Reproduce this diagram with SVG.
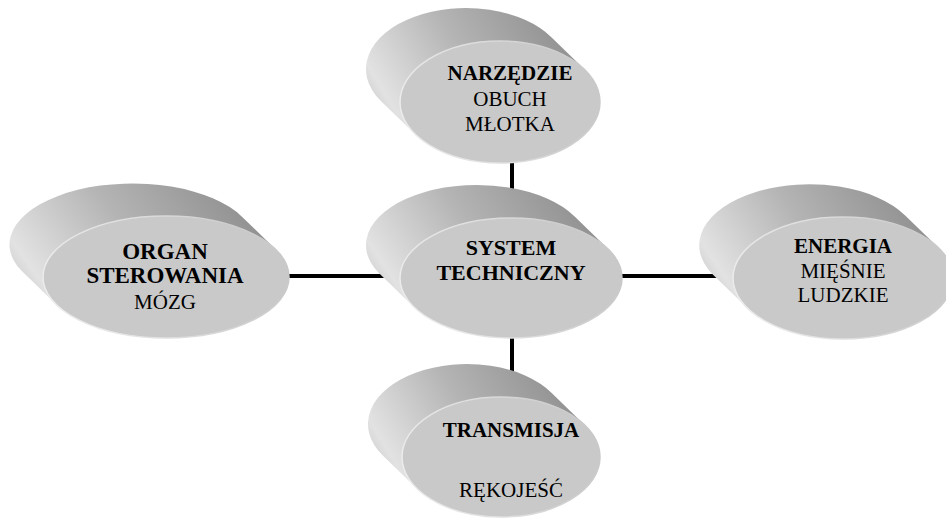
<svg xmlns="http://www.w3.org/2000/svg" width="946" height="519" viewBox="0 0 946 519">
<defs>
<linearGradient id="side" x1="0" y1="0.7" x2="1" y2="0.3">
<stop offset="0" stop-color="#c4c4c4"/>
<stop offset="0.12" stop-color="#e2e2e2"/>
<stop offset="0.5" stop-color="#b4b4b4"/>
<stop offset="1" stop-color="#8a8a8a"/>
</linearGradient>
<linearGradient id="rim" x1="0" y1="0.6" x2="1" y2="0.4">
<stop offset="0" stop-color="#ececec"/>
<stop offset="0.5" stop-color="#dcdcdc"/>
<stop offset="1" stop-color="#c8c8c8"/>
</linearGradient>
</defs>
<style>
.side{fill:url(#side);}
.front{fill:#c9c9c9;stroke:url(#rim);stroke-width:1.5;}
.conn{stroke:#000;stroke-width:4;fill:none;}
.t{font-family:'Liberation Serif','Times New Roman',serif;font-size:21px;fill:#000;text-anchor:middle;}
.b{font-weight:bold;}
</style>
<rect width="946" height="519" fill="#fff"/>
<g id="connectors">
<line class="conn" x1="512" y1="150" x2="512" y2="220"/>
<line class="conn" x1="512" y1="320" x2="512" y2="385"/>
<line class="conn" x1="270" y1="276" x2="400" y2="276"/>
<line class="conn" x1="600" y1="276" x2="735" y2="276"/>
</g>
<g id="node-narzedzie">
<path class="side" d="M585.37,70.23 L551.37,37.23 A100,61 0 0 0 380.63,100.77 L414.63,133.77 A100,61 0 0 0 585.37,70.23 Z"/>
<ellipse class="front" cx="500" cy="102" rx="100" ry="61"/>
<g class="t" font-family="Liberation Serif, serif" font-size="21" text-anchor="middle">
<text class="b" x="510" y="80" font-weight="bold">NARZĘDZIE</text>
<text x="510" y="106">OBUCH</text>
<text x="510" y="131">MŁOTKA</text>
</g>
</g>
<g id="node-organ">
<path class="side" d="M276.19,249.90 L242.19,216.90 A123,61 0 0 0 21.81,271.10 L55.81,304.10 A123,61 0 0 0 276.19,249.90 Z"/>
<ellipse class="front" cx="166" cy="277" rx="123" ry="61"/>
<g class="t" font-family="Liberation Serif, serif" font-size="21" text-anchor="middle">
<text class="b" x="165" y="259" font-weight="bold" style="font-size:23px">ORGAN</text>
<text class="b" x="165" y="283" font-weight="bold" style="font-size:23px">STEROWANIA</text>
<text x="165" y="309">MÓZG</text>
</g>
</g>
<g id="node-system">
<path class="side" d="M608.65,249.47 L574.65,216.47 A111,60 0 0 0 379.35,273.53 L413.35,306.53 A111,60 0 0 0 608.65,249.47 Z"/>
<ellipse class="front" cx="511" cy="278" rx="111" ry="60"/>
<g class="t" font-family="Liberation Serif, serif" font-size="22" text-anchor="middle" style="font-size:22px">
<text class="b" x="511" y="255" font-weight="bold">SYSTEM</text>
<text class="b" x="511" y="280" font-weight="bold">TECHNICZNY</text>
</g>
</g>
<g id="node-energia">
<path class="side" d="M939.20,248.42 L905.20,215.42 A110,61 0 0 0 712.80,274.58 L746.80,307.58 A110,61 0 0 0 939.20,248.42 Z"/>
<ellipse class="front" cx="843" cy="278" rx="110" ry="61"/>
<g class="t" font-family="Liberation Serif, serif" font-size="21" text-anchor="middle">
<text class="b" x="843" y="253" font-weight="bold">ENERGIA</text>
<text x="843" y="278">MIĘŚNIE</text>
<text x="843" y="302">LUDZKIE</text>
</g>
</g>
<g id="node-transmisja">
<path class="side" d="M585.67,425.90 L551.67,392.90 A99,60 0 0 0 382.33,455.10 L416.33,488.10 A99,60 0 0 0 585.67,425.90 Z"/>
<ellipse class="front" cx="501" cy="457" rx="99" ry="60"/>
<g class="t" font-family="Liberation Serif, serif" font-size="21" text-anchor="middle">
<text class="b" x="511" y="437" font-weight="bold">TRANSMISJA</text>
<text x="511" y="497">RĘKOJEŚĆ</text>
</g>
</g>
</svg>
